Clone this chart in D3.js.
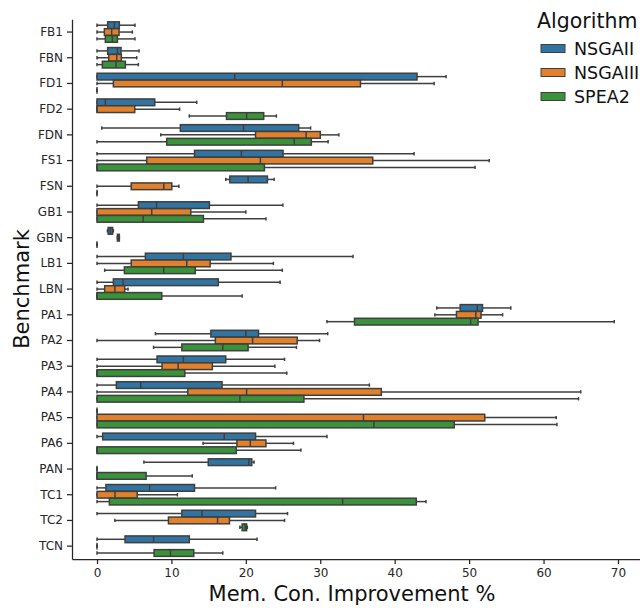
<!DOCTYPE html>
<html><head><meta charset="utf-8">
<script src="https://cdn.jsdelivr.net/npm/d3@7"></script>
<style>body{margin:0;background:#fff}svg{display:block;font-family:"DejaVu Sans",sans-serif}</style>
</head><body><svg id="c" width="640" height="608"></svg>
<script>
const benchmarks = ["FB1","FBN","FD1","FD2","FDN","FS1","FSN","GB1","GBN","LB1","LBN","PA1","PA2","PA3","PA4","PA5","PA6","PAN","TC1","TC2","TCN"];
const algorithms = ["NSGAII","NSGAIII","SPEA2"];
const colors = ["#3274a1","#e1812c","#3a923a"];
const xTicks = [0,10,20,30,40,50,60,70];
// [whisker low, Q1, median, Q3, whisker high]
const nsga2Stats = [
 [0,1.43,2.33,3.0,5.1],[0,1.43,2.74,3.23,5.65],[0,0,18.5,43.0,46.9],[0,0,1.12,7.76,13.4],
 [0.63,11.2,19.7,27.1,28.7],[0,13.1,19.4,25.0,42.6],[17.3,17.85,20.3,22.9,23.8],[0,5.56,8.0,15.1,24.98],
 [1.4,1.5,1.8,2.1,2.2],[0,6.5,11.6,18.0,34.4],[0,2.2,3.5,16.3,24.6],[45.65,48.8,51.1,51.8,55.6],
 [7.85,15.3,20.0,21.7,31.0],[0,8.07,11.6,17.3,25.2],[0,2.6,5.87,16.8,36.6],[0,0,0,0,0],
 [0,0.76,17.1,21.3,30.9],[6.3,14.95,20.4,20.8,21.1],[0,1.2,7.08,13.1,24.0],[0,11.4,14.1,21.3,25.6],
 [0,3.77,7.6,12.4,21.5]];
const nsga3Stats = [
 [0,0.99,1.97,2.96,4.75],[0,1.57,2.65,3.27,5.34],[0,2.2,24.9,35.4,45.3],[0,0,0,5.07,11.1],
 [8.57,21.3,28.1,30.0,32.5],[0,6.68,21.95,37.05,52.7],[0,4.6,8.97,10.05,11.0],[0,0,7.35,12.6,20.0],
 [2.74,2.74,2.87,3.0,3.0],[0,4.6,12.06,15.2,23.7],[0,1.03,2.4,3.72,4.17],[45.4,48.3,50.9,51.6,54.5],
 [0,15.9,20.9,26.9,29.9],[0,8.74,10.9,15.5,23.9],[0,12.2,20.1,38.2,65.0],[0,0,35.8,52.1,61.7],
 [14.25,18.8,20.6,22.7,26.4],[0,0,0,0,0],[0,0,2.42,5.4,10.8],[2.4,9.6,16.2,17.8,25.2],
 [0,0,0,0,0]];
const spea2Stats = [
 [0,1.12,2.06,2.74,5.1],[0,0.72,2.56,3.81,5.56],[0,0,0,0,0],[12.4,17.4,20.1,22.4,24.1],
 [0,9.37,26.5,28.8,31.05],[0,0,0,22.5,50.8],[0,0,0,0,0],[0,0,6.2,14.3,22.7],
 [0,0,0,0,0],[1.03,3.68,8.97,13.2,24.9],[0,0,0,8.7,19.5],[30.9,34.6,50.2,51.2,69.5],
 [7.6,11.4,16.9,20.3,26.8],[0,0,0,11.8,25.5],[0,0,19.2,27.8,64.7],[0,0,37.2,48.0,61.8],
 [0,0,0,18.7,27.4],[0,0,0,6.6,12.8],[0,1.66,33.0,42.9,44.2],[19.2,19.5,19.9,20.1,20.2],
 [0,7.67,9.87,13.0,16.9]];
const allStats = [nsga2Stats, nsga3Stats, spea2Stats];

const svg = d3.select("#c");
const plotL = 72, plotR = 640, plotT = 19.2, plotB = 559;
const x = d3.scaleLinear().domain([-3.36, 72.96]).range([plotL, plotR]);
const y = d3.scaleBand().domain(benchmarks).range([plotT, plotB]).paddingInner(0).paddingOuter(0);
const hue = d3.scaleBand().domain(algorithms).range([-y.bandwidth()*0.4, y.bandwidth()*0.4]);
const boxH = hue.bandwidth()*0.98;
const edge = "#3f3f3f";

const g = svg.append("g");
benchmarks.forEach((b, i) => {
  algorithms.forEach((a, k) => {
    const s = allStats[k][i];
    const cy = y(b) + y.bandwidth()/2 + hue(a) + hue.bandwidth()/2;
    const gg = g.append("g");
    gg.append("line").attr("x1", x(s[0])).attr("x2", x(s[1])).attr("y1", cy).attr("y2", cy)
      .attr("stroke", edge).attr("stroke-width", 1.5);
    gg.append("line").attr("x1", x(s[3])).attr("x2", x(s[4])).attr("y1", cy).attr("y2", cy)
      .attr("stroke", edge).attr("stroke-width", 1.5);
    [s[0], s[4]].forEach(v => gg.append("line").attr("x1", x(v)).attr("x2", x(v))
      .attr("y1", cy - boxH/4).attr("y2", cy + boxH/4).attr("stroke", edge).attr("stroke-width", 1.5));
    gg.append("rect").attr("x", x(s[1])).attr("width", Math.max(0, x(s[3]) - x(s[1])))
      .attr("y", cy - boxH/2).attr("height", boxH)
      .attr("fill", colors[k]).attr("stroke", edge).attr("stroke-width", 1.5);
    gg.append("line").attr("x1", x(s[2])).attr("x2", x(s[2])).attr("y1", cy - boxH/2).attr("y2", cy + boxH/2)
      .attr("stroke", edge).attr("stroke-width", 1.5);
  });
});

const xAxis = svg.append("g").attr("transform", `translate(0,${plotB})`)
  .call(d3.axisBottom(x).tickValues(xTicks).tickSize(5).tickPadding(4).tickSizeOuter(0));
const yAxis = svg.append("g").attr("transform", `translate(${plotL},0)`)
  .call(d3.axisLeft(y).tickSize(5).tickPadding(4).tickSizeOuter(0));
[xAxis, yAxis].forEach(ax => {
  ax.select(".domain").attr("stroke", "#262626").attr("stroke-width", 1.25);
  ax.selectAll(".tick line").attr("stroke", "#262626").attr("stroke-width", 1.25);
  ax.selectAll(".tick text").attr("fill", "#262626").style("font-size", "12px").style("font-family", "DejaVu Sans");
});

svg.append("text").attr("x", 352).attr("y", 601).attr("text-anchor", "middle")
  .style("font-size", "21px").attr("fill", "#111").text("Mem. Con. Improvement %");
svg.append("text").attr("transform", "translate(29,289) rotate(-90)").attr("text-anchor", "middle")
  .style("font-size", "21px").attr("fill", "#111").text("Benchmark");

const lg = svg.append("g");
lg.append("text").attr("x", 537).attr("y", 28).style("font-size", "20.5px").attr("fill", "#111").text("Algorithm");
algorithms.forEach((a, k) => {
  const ly = 48 + k*24;
  lg.append("rect").attr("x", 541).attr("y", ly - 3.5).attr("width", 24).attr("height", 8)
    .attr("fill", colors[k]).attr("stroke", edge).attr("stroke-width", 1);
  lg.append("text").attr("x", 574).attr("y", ly + 6.5).style("font-size", "17.5px").attr("fill", "#111").text(a);
});
</script></body></html>
